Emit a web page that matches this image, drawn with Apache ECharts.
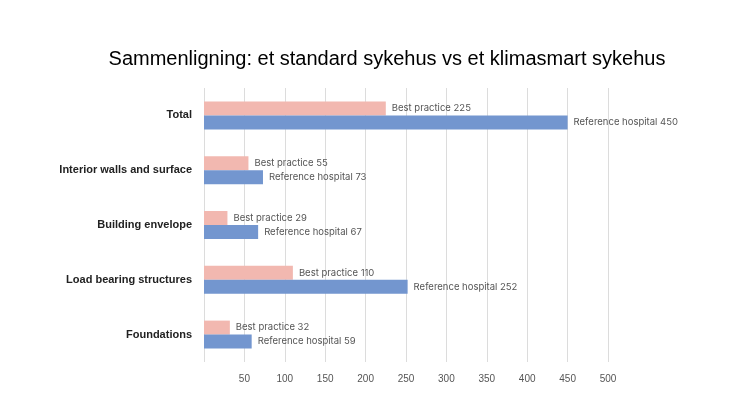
<!DOCTYPE html>
<html><head><meta charset="utf-8">
<script src="https://cdn.jsdelivr.net/npm/echarts@6/dist/echarts.min.js"></script>
<style>html,body{margin:0;background:#fff}#c{width:746px;height:419px}</style>
</head><body><div id="c"></div>
<script>
const categories = ['Total','Interior walls and surface','Building envelope','Load bearing structures','Foundations'];
const bestPractice = [225,55,29,110,32];
const referenceHospital = [450,73,67,252,59];
const chart = echarts.init(document.getElementById('c'));
const lbl = name => ({show:true,position:'right',distance:6,color:'#555',fontSize:9.5,fontFamily:'Inter, Arial, sans-serif',formatter:p=>name+' '+p.value});
chart.setOption({
  animation:false,
  title:{text:'Sammenligning: et standard sykehus vs et klimasmart sykehus',left:382,textAlign:'center',top:44,textStyle:{fontFamily:'Arial, Liberation Sans, sans-serif',fontWeight:'normal',fontSize:20,color:'#000'}},
  grid:{left:204,right:138,top:88,bottom:57},
  xAxis:{type:'value',min:0,max:500,interval:50,
    axisLine:{show:false},axisTick:{show:false},
    splitLine:{lineStyle:{color:'#dcdcdc'}},
    axisLabel:{color:'#555',fontSize:10,margin:12,formatter:v=>v===0?'':v}},
  yAxis:{type:'category',data:categories,inverse:true,
    axisLine:{show:false},axisTick:{show:false},
    axisLabel:{color:'#222',fontWeight:'bold',fontSize:11,margin:12}},
  series:[
    {type:'bar',name:'Best practice',data:bestPractice,barWidth:14,barGap:'0%',itemStyle:{color:'#f2b8b0'},label:lbl('Best practice')},
    {type:'bar',name:'Reference hospital',data:referenceHospital,barWidth:14,itemStyle:{color:'#7396cf'},label:lbl('Reference hospital')}
  ]
});
</script></body></html>
